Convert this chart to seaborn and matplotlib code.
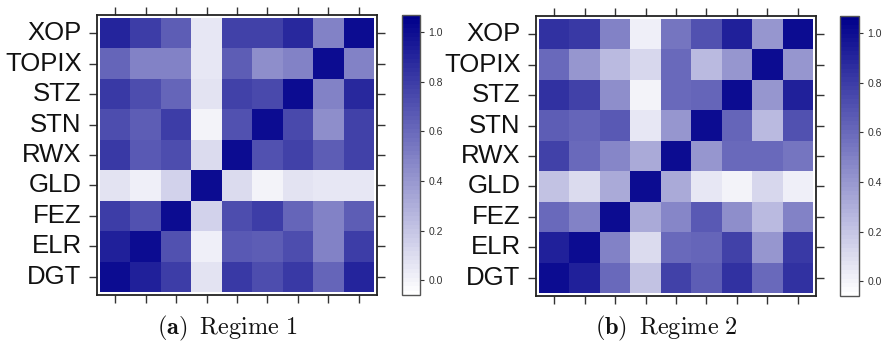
import numpy as np
import pandas as pd
import matplotlib
matplotlib.use("Agg")
import matplotlib.pyplot as plt
import seaborn as sns
from matplotlib.colors import LinearSegmentedColormap

# Asset tickers: rows listed top to bottom, columns left to right
row_labels = ["XOP", "TOPIX", "STZ", "STN", "RWX", "GLD", "FEZ", "ELR", "DGT"]
col_labels = ["DGT", "ELR", "FEZ", "GLD", "RWX", "STN", "STZ", "TOPIX", "XOP"]

# Correlation matrices for each regime (rows in row_labels order)
regime1 = [
    [0.90, 0.80, 0.65, 0.05, 0.77, 0.78, 0.88, 0.50, 1.00],
    [0.62, 0.50, 0.50, 0.05, 0.65, 0.45, 0.50, 1.00, 0.50],
    [0.82, 0.72, 0.62, 0.08, 0.78, 0.75, 1.00, 0.50, 0.88],
    [0.72, 0.66, 0.80, 0.00, 0.70, 1.00, 0.75, 0.45, 0.78],
    [0.82, 0.68, 0.72, 0.10, 1.00, 0.70, 0.78, 0.65, 0.77],
    [0.08, 0.02, 0.15, 1.00, 0.10, 0.00, 0.08, 0.05, 0.05],
    [0.80, 0.70, 1.00, 0.15, 0.72, 0.80, 0.62, 0.50, 0.65],
    [0.92, 1.00, 0.70, 0.02, 0.68, 0.66, 0.72, 0.50, 0.80],
    [1.00, 0.92, 0.80, 0.08, 0.82, 0.72, 0.82, 0.62, 0.90],
]
regime2 = [
    [0.85, 0.82, 0.50, 0.02, 0.55, 0.70, 0.92, 0.40, 1.00],
    [0.60, 0.40, 0.25, 0.12, 0.60, 0.25, 0.40, 1.00, 0.40],
    [0.85, 0.78, 0.45, 0.00, 0.60, 0.62, 1.00, 0.40, 0.92],
    [0.65, 0.62, 0.68, 0.05, 0.40, 1.00, 0.62, 0.25, 0.70],
    [0.78, 0.60, 0.48, 0.32, 1.00, 0.40, 0.60, 0.60, 0.55],
    [0.22, 0.10, 0.32, 1.00, 0.32, 0.05, 0.00, 0.12, 0.02],
    [0.60, 0.50, 1.00, 0.32, 0.48, 0.68, 0.45, 0.25, 0.50],
    [0.92, 1.00, 0.50, 0.10, 0.60, 0.62, 0.78, 0.40, 0.82],
    [1.00, 0.92, 0.60, 0.22, 0.78, 0.65, 0.85, 0.60, 0.85],
]
captions = [r"$\mathbf{(a)}\;\;\mathrm{Regime\ 1}$", r"$\mathbf{(b)}\;\;\mathrm{Regime\ 2}$"]
cbar_ticks = [0.0, 0.2, 0.4, 0.6, 0.8, 1.0]

sns.set_theme(style="white")
plt.rcParams["font.family"] = ["Liberation Sans", "DejaVu Sans"]
plt.rcParams["mathtext.fontset"] = "cm"

cmap = LinearSegmentedColormap.from_list("white_navy", ["#ffffff", "#00008B"], N=64)

W, H = 886, 341
fig = plt.figure(figsize=(W / 100, H / 100), dpi=100)


def fbox(x0, y0, x1, y1):
    return [x0 / W, 1 - y1 / H, (x1 - x0) / W, (y1 - y0) / H]


panels = [
    (regime1, fbox(97, 15, 377, 295), fbox(402, 15, 420, 295), 227),
    (regime2, fbox(536, 16, 816, 296), fbox(840, 16, 859, 296), 666),
]

for (data, heat_box, cbar_box, cap_x), caption in zip(panels, captions):
    ax = fig.add_axes(heat_box)
    cax = fig.add_axes(cbar_box)
    df = pd.DataFrame(data, index=row_labels, columns=col_labels)
    sns.heatmap(df, ax=ax, cbar_ax=cax, cmap=cmap, vmin=-0.06, vmax=1.07,
                square=False, linewidths=0,
                cbar_kws={"ticks": cbar_ticks, "format": "%.1f"})
    ax.set_xlim(-0.1, 9.1)
    ax.set_ylim(9.1, -0.1)
    ax.set_xticklabels([])
    ax.set_yticklabels(row_labels, rotation=0, fontsize=18.5, color="#111111")
    ax.tick_params(axis="both", which="both", direction="out", length=6, width=1,
                   color="#333333", top=True, right=True, bottom=True, left=True,
                   labeltop=False, labelright=False, labelbottom=False, pad=5)
    for sp in ax.spines.values():
        sp.set_visible(True)
        sp.set_color("#222222")
        sp.set_linewidth(1.3)
    ax.set_xlabel("")
    ax.set_ylabel("")

    cax.tick_params(direction="out", length=3, width=0.8, color="#333333",
                    labelsize=7.5, labelcolor="#333333", pad=3, right=True)
    cb = ax.collections[0].colorbar
    cb.outline.set_edgecolor("#555555")
    cb.outline.set_linewidth(1.0)

    fig.text(cap_x / W, 1 - 328 / H, caption, ha="center", va="center",
             fontsize=17.5, color="#111111")

fig.savefig("out.png", dpi=100)
